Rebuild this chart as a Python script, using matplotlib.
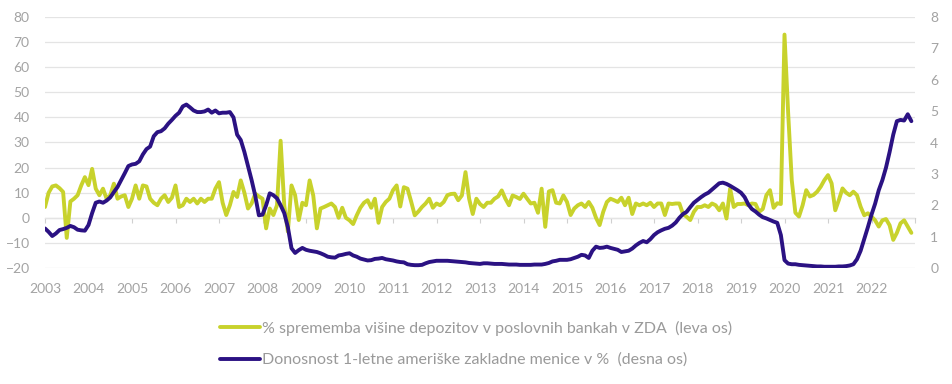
import numpy as np
import matplotlib.pyplot as plt

plt.rcParams['font.family'] = ['Lato', 'DejaVu Sans']

# monthly values, Jan 2003 - Dec 2022
start_year = 2003
deposits_pct = [
    4.3, 10, 12.5, 12.9, 11.8, 10.3, -8, 6.5, 7.6, 9, 12.9, 16.2,      # 2003
    13, 19.5, 11.6, 9, 11.6, 7.6, 9, 13.6, 7.6, 8.5, 9, 4.3,           # 2004
    7.6, 12.9, 7.6, 12.9, 12.5, 7.6, 6, 5, 7.6, 9, 6.3, 8,             # 2005
    12.9, 4.3, 5, 7.6, 6.3, 7.6, 5.7, 7.6, 6.3, 7.6, 7.6, 11.6,        # 2006
    14.2, 6, 1.1, 5, 10.3, 8.3, 14.9, 10, 3.7, 5.7, 9.6, 8.5,          # 2007
    7.6, -4.2, 3.7, 1.1, 5, 30.7, 5, -5.5, 12.9, 9, -0.9, 6,           # 2008
    5, 14.9, 8.9, -4.2, 3.7, 4.3, 5, 5.7, 4.3, 0, 4, 0,                # 2009
    -1, -2.5, 1, 4, 6, 7, 4, 7.6, -2, 4.3, 6.3, 7.6,                   # 2010
    11, 12.9, 4.5, 12.2, 11.6, 6.5, 1, 2.5, 4.3, 5.7, 7.6, 4,          # 2011
    5.7, 5, 6.3, 9, 9.5, 9.6, 7, 8.9, 18.2, 7.6, 1.5, 7.6,             # 2012
    5.5, 4.3, 6, 6, 7.6, 8.5, 10.9, 7.6, 5, 8.9, 8.3, 7.5,             # 2013
    9.6, 7.6, 5.7, 6, 2, 11.6, -3.6, 10.5, 11, 6, 5.7, 8.9,            # 2014
    6.3, 1.1, 3.7, 5, 5.7, 4.3, 6.3, 4, 0, -2.9, 2.4, 6.3,             # 2015
    7.6, 7, 6.3, 8, 5, 8, 1.5, 5.7, 5, 5.7, 5, 6,                      # 2016
    4.3, 5.7, 5.7, 1.1, 5.7, 5.5, 5.7, 5.7, 1.5, 0.4, -0.9, 2.4,       # 2017
    4.3, 4.3, 5, 4.3, 5.7, 5, 3, 5.7, -0.3, 11.6, 4.3, 5.5,            # 2018
    5.5, 5.7, 5, 5.7, 5.5, 2.4, 3.5, 9, 11, 4, 5.8, 5.5,               # 2019
    73, 42, 15, 2, 0.5, 5, 11, 8.5, 9.1, 10.4, 12.4, 15,               # 2020
    17, 13.7, 3, 7.1, 11.7, 10, 9, 10.4, 9, 4.4, 1, 1.8,               # 2021
    0.5, -1, -3.5, -1, -0.5, -3, -8.8, -6, -2.2, -1, -3.5, -6,         # 2022
]
tbill_yield = [
    1.26, 1.15, 1.02, 1.10, 1.21, 1.24, 1.28, 1.34, 1.30, 1.22, 1.20, 1.19,
    1.37, 1.75, 2.08, 2.12, 2.08, 2.15, 2.25, 2.42, 2.58, 2.80, 3.02, 3.25,
    3.30, 3.32, 3.40, 3.62, 3.79, 3.87, 4.20, 4.33, 4.36, 4.45, 4.60, 4.72,
    4.85, 4.95, 5.15, 5.21, 5.12, 5.02, 4.97, 4.97, 4.99, 5.05, 4.95, 5.02,
    4.93, 4.95, 4.95, 4.97, 4.80, 4.25, 4.08, 3.70, 3.25, 2.80, 2.30, 1.68,
    1.70, 2.00, 2.38, 2.32, 2.22, 2.00, 1.75, 1.30, 0.63, 0.48, 0.57, 0.64,
    0.58, 0.55, 0.53, 0.51, 0.47, 0.42, 0.36, 0.34, 0.33, 0.40, 0.42, 0.45,
    0.47, 0.40, 0.36, 0.30, 0.27, 0.24, 0.25, 0.29, 0.30, 0.32, 0.28, 0.26,
    0.24, 0.21, 0.19, 0.18, 0.12, 0.10, 0.09, 0.09, 0.10, 0.15, 0.19, 0.21,
    0.23, 0.23, 0.23, 0.23, 0.22, 0.21, 0.20, 0.19, 0.18, 0.16, 0.15, 0.14,
    0.13, 0.15, 0.15, 0.14, 0.13, 0.13, 0.13, 0.12, 0.11, 0.11, 0.11, 0.10,
    0.10, 0.10, 0.10, 0.11, 0.11, 0.11, 0.13, 0.16, 0.21, 0.23, 0.26, 0.26,
    0.26, 0.28, 0.32, 0.36, 0.42, 0.40, 0.32, 0.55, 0.68, 0.64, 0.65, 0.68,
    0.64, 0.61, 0.58, 0.51, 0.53, 0.55, 0.62, 0.72, 0.80, 0.86, 0.82, 0.92,
    1.05, 1.14, 1.20, 1.25, 1.28, 1.35, 1.45, 1.60, 1.72, 1.79, 1.94, 2.08,
    2.17, 2.26, 2.34, 2.40, 2.50, 2.60, 2.70, 2.72, 2.68, 2.62, 2.55, 2.48,
    2.40, 2.26, 2.03, 1.88, 1.80, 1.70, 1.62, 1.58, 1.53, 1.48, 1.44, 1.05,
    0.25, 0.14, 0.12, 0.12, 0.10, 0.09, 0.08, 0.07, 0.06, 0.05, 0.05, 0.04,
    0.04, 0.04, 0.04, 0.05, 0.05, 0.06, 0.08, 0.12, 0.28, 0.55, 0.92, 1.30,
    1.70, 2.05, 2.48, 2.80, 3.20, 3.70, 4.25, 4.68, 4.72, 4.70, 4.90, 4.68,
]
year_labels = [str(y) for y in range(2003, 2023)]
left_ticks = list(range(-20, 81, 10))
right_ticks = list(range(0, 9))

label_green = '% sprememba višine depozitov v poslovnih bankah v ZDA  (leva os)'
label_purple = 'Donosnost 1-letne ameriške zakladne menice v %  (desna os)'

green = '#c8d22c'
purple = '#2b1283'
grid_col = '#e4e4e4'
text_col = '#a3a3a3'

t = start_year + np.arange(len(deposits_pct)) / 12

fig = plt.figure(figsize=(9.53, 3.84), dpi=100)
ax = fig.add_axes([45 / 953, 1 - 268 / 384, 870 / 953, 251 / 384])
ax2 = ax.twinx()

l1, = ax.plot(t, deposits_pct, color=green, lw=2.8, solid_capstyle='round', solid_joinstyle='round')
l2, = ax2.plot(t, tbill_yield, color=purple, lw=2.8, solid_capstyle='round', solid_joinstyle='round')

ax.set_xlim(2003, 2023)
ax.set_ylim(-20, 80)
ax2.set_ylim(0, 8)

ax.set_yticks(left_ticks)
ax2.set_yticks(right_ticks)
ax.set_xticks([int(y) for y in year_labels])
ax.set_xticklabels(year_labels)
ax.grid(True, axis='y', color=grid_col, lw=0.9)
ax.set_axisbelow(True)

for a in (ax, ax2):
    for s in a.spines.values():
        s.set_visible(False)
ax.tick_params(axis='both', length=0, labelsize=10, labelcolor=text_col)
ax.tick_params(axis='y', pad=11)
ax.tick_params(axis='x', pad=11)
ax2.tick_params(axis='y', length=0, labelsize=10, labelcolor=text_col, pad=11)

# category axis crossing at zero on the left scale
zero_pos = (0 - ax.get_ylim()[0]) / (ax.get_ylim()[1] - ax.get_ylim()[0])
sec = ax.secondary_xaxis(zero_pos)
sec.set_xticks(list(range(2003, 2024)))
sec.tick_params(axis='x', direction='out', length=3.5, color='#d0d0d0', width=0.8, labelbottom=False, labeltop=False)
sec.spines['bottom'].set_color('#d0d0d0')
sec.spines['bottom'].set_linewidth(0.9)
sec.xaxis.set_ticks_position('bottom')
sec.set_xticklabels([])

fig.legend([l1, l2], [label_green, label_purple], loc='upper left',
           bbox_to_anchor=(220 / 953, 1 - 321 / 384), frameon=False, fontsize=11.5,
           labelcolor='#9a9a9a', handlelength=2.5, handletextpad=0.1, labelspacing=1.05,
           borderpad=0, borderaxespad=0)

fig.savefig('out.png', dpi=100)
